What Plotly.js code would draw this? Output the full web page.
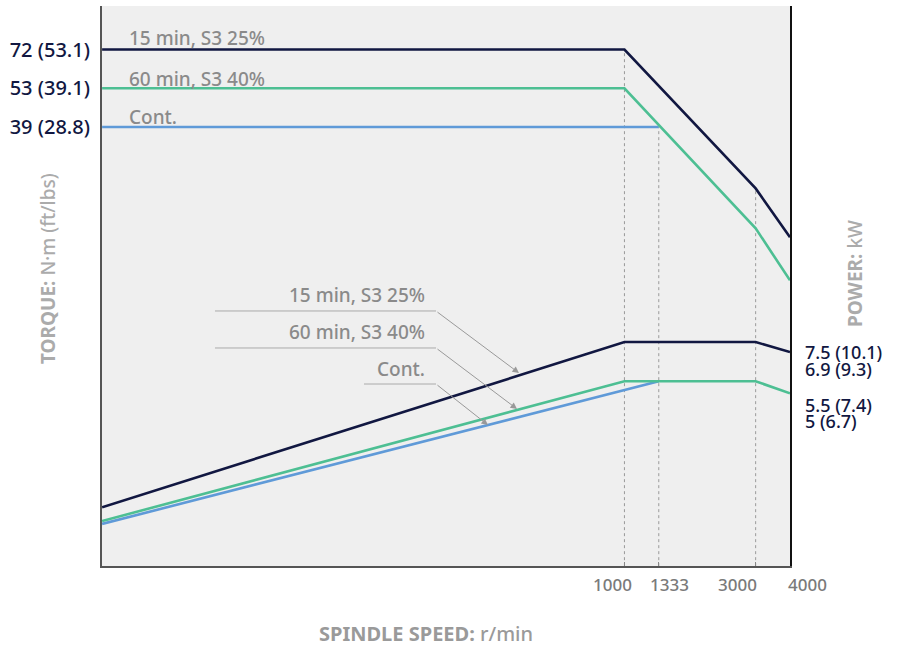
<!DOCTYPE html>
<html>
<head>
<meta charset="utf-8">
<script src="https://cdn.plot.ly/plotly-3.0.1.min.js"></script>
<style>html,body{margin:0;padding:0;background:#fff;}#chart{width:898px;height:664px;}</style>
</head>
<body>
<div id="chart"></div>
<script>
// ---- data ----
const speedS3_25 = [12.6, 1000, 3000, 4000];
const torqueS3_25 = [72, 72, 24, 16.3];
const powerS3_25 = [2.03, 7.5, 7.5, 6.93];

const speedS3_40 = [12.6, 1000, 3000, 4000];
const torqueS3_40 = [53, 53, 17.5, 11.6];
const powerS3_40 = [1.82, 5.5, 5.5, 5.0];

const speedCont = [12.6, 1333];
const torqueCont = [39, 39];
const powerCont = [1.78, 5.5];

const guideSpeeds = [1000, 1333, 3000];
const guideTorques = [72, 39, 24];

const torqueTicks = [72, 53, 39];
const torqueTickText = ['72 (53.1)', '53 (39.1)', '39 (28.8)'];
const speedTicks = [1000, 1333, 3000, 4000];
const speedTickText = ['1000', '1333', '3000', '4000'];
const powerLabels = ['7.5 (10.1)', '6.9 (9.3)', '5.5 (7.4)', '5 (6.7)'];
const seriesNames = ['15 min, S3 25%', '60 min, S3 40%', 'Cont.'];

// ---- styles ----
const NAVY = '#111741', GREEN = '#4dbf93', BLUE = '#5f9ad8';
const FONT = 'Noto Sans, Open Sans, sans-serif';
const LW = 2.6;
const XMAX = Math.log10(4000);

const traces = [];
guideSpeeds.forEach((s, i) => {
  traces.push({x: [s, s], y: [1, guideTorques[i]], mode: 'lines', yaxis: 'y',
    line: {color: '#9a9a9a', width: 1, dash: 'dot'}, hoverinfo: 'skip', showlegend: false});
});
traces.push({x: speedCont, y: torqueCont, mode: 'lines', line: {color: BLUE, width: LW}, name: 'Cont. torque'});
traces.push({x: speedS3_40, y: torqueS3_40, mode: 'lines', line: {color: GREEN, width: LW}, name: '60 min torque'});
traces.push({x: speedS3_25, y: torqueS3_25, mode: 'lines', line: {color: NAVY, width: LW}, name: '15 min torque'});
traces.push({x: speedCont, y: powerCont, yaxis: 'y2', mode: 'lines', line: {color: BLUE, width: LW}, name: 'Cont. power'});
traces.push({x: speedS3_40, y: powerS3_40, yaxis: 'y2', mode: 'lines', line: {color: GREEN, width: LW}, name: '60 min power'});
traces.push({x: speedS3_25, y: powerS3_25, yaxis: 'y2', mode: 'lines', line: {color: NAVY, width: LW}, name: '15 min power'});

const annotations = [];
const labelFont = {family: FONT, size: 19, color: '#8a8a8a', weight: 500};
const upperY = [0.9429, 0.8696, 0.8018];
seriesNames.forEach((t, i) => annotations.push({xref: 'paper', yref: 'paper', x: 0.0363, y: upperY[i],
  xanchor: 'left', yanchor: 'middle', text: t, showarrow: false, font: labelFont}));
const lowerY = [0.4839, 0.4179, 0.3518];
seriesNames.forEach((t, i) => annotations.push({xref: 'paper', yref: 'paper', x: 0.4724, y: lowerY[i],
  xanchor: 'right', yanchor: 'middle', text: t, showarrow: false, font: labelFont}));
const heads = [[0.6061, 0.3446, -83, -62], [0.6032, 0.2804, -81, -61], [0.5610, 0.2518, -52, -41]];
heads.forEach(h => annotations.push({xref: 'paper', yref: 'paper', x: h[0], y: h[1], ax: h[2], ay: h[3],
  text: '', showarrow: true, arrowhead: 2, arrowsize: 1.3, arrowwidth: 1, arrowcolor: '#999', standoff: 0}));
const rightY = [0.3821, 0.3518, 0.2875, 0.2589];
powerLabels.forEach((t, i) => annotations.push({xref: 'paper', yref: 'paper', x: 1.0189, y: rightY[i],
  xanchor: 'left', yanchor: 'middle', text: t, showarrow: false,
  font: {family: FONT, size: 18, color: NAVY, weight: 500}}));
const xShift = [-12, 11, -18, 17];
speedTicks.forEach((v, i) => annotations.push({xref: 'x', yref: 'paper', x: Math.min(Math.log10(v), XMAX), y: 0, yshift: -18,
  xshift: xShift[i], yanchor: 'middle', text: speedTickText[i], showarrow: false,
  font: {family: FONT, size: 17, color: '#7a7a7a', weight: 500}}));
annotations.push({xref: 'paper', yref: 'paper', x: -0.1003, y: 0.5321, textangle: -90, showarrow: false,
  text: '<b>TORQUE:</b> N·m (ft/lbs)', font: {family: FONT, size: 19, color: '#ababab', weight: 500}});
annotations.push({xref: 'paper', yref: 'paper', x: 1.1163, y: 0.5214, textangle: -90, showarrow: false,
  text: '<b>POWER:</b> kW', font: {family: FONT, size: 19, color: '#ababab', weight: 500}});
annotations.push({xref: 'paper', yref: 'paper', x: 0.4709, y: -0.1482, showarrow: false,
  text: '<b>SPINDLE SPEED:</b> r/min', font: {family: FONT, size: 20, color: '#9a9a9a', weight: 500}});

const shapes = [
  {type: 'line', xref: 'paper', yref: 'paper', x0: 0.1642, x1: 0.4855, y0: 0.4554, y1: 0.4554, line: {color: '#aaa', width: 1}},
  {type: 'line', xref: 'paper', yref: 'paper', x0: 0.1642, x1: 0.4855, y0: 0.3893, y1: 0.3893, line: {color: '#aaa', width: 1}},
  {type: 'line', xref: 'paper', yref: 'paper', x0: 0.3808, x1: 0.4855, y0: 0.325, y1: 0.325, line: {color: '#aaa', width: 1}}
];

const layout = {
  width: 898, height: 664,
  margin: {l: 102, r: 108, t: 6, b: 98},
  paper_bgcolor: '#ffffff', plot_bgcolor: '#efefef',
  showlegend: false,
  font: {family: FONT},
  xaxis: {type: 'log', range: [1.1, XMAX], showgrid: false, zeroline: false,
    tickvals: speedTicks, ticks: 'inside', ticklen: 4, tickcolor: '#888', showticklabels: false,
    showline: true, linecolor: '#555', linewidth: 2},
  yaxis: {type: 'log', range: [0.083, 2.007], showgrid: false, zeroline: false,
    tickvals: torqueTicks, ticktext: torqueTickText, ticks: '', ticklabelstandoff: 6,
    tickfont: {family: FONT, size: 20, color: NAVY, weight: 500},
    showline: true, linecolor: '#555', linewidth: 2},
  yaxis2: {type: 'log', range: [0.1057, 2.0297], overlaying: 'y', side: 'right', showgrid: false,
    zeroline: false, showticklabels: false, ticks: '', showline: true, linecolor: '#111', linewidth: 2},
  annotations: annotations,
  shapes: shapes
};

Plotly.newPlot('chart', traces, layout, {displayModeBar: false, staticPlot: true});
</script>
</body>
</html>
